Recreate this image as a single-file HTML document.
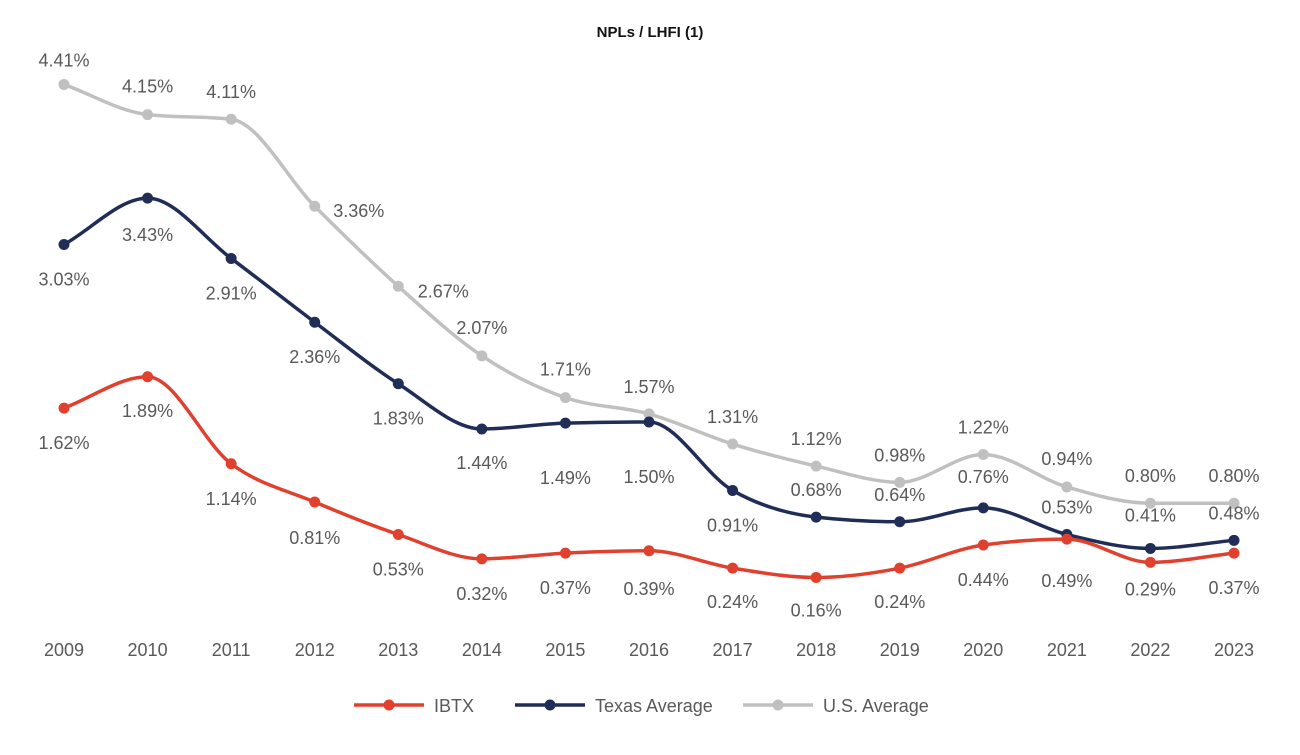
<!DOCTYPE html>
<html><head><meta charset="utf-8"><style>
body{margin:0;background:#fff;font-family:"Liberation Sans",sans-serif}
svg text{font-family:"Liberation Sans",sans-serif}
</style></head><body>
<svg id="chart" width="1300" height="750" viewBox="0 0 1300 750">
<text x="650" y="37" text-anchor="middle" font-size="15" font-weight="bold" fill="#111">NPLs / LHFI (1)</text>
<g id="plot"></g>
<g id="xaxis"></g>
<g id="legend"></g>
</svg>
<script>
const years=["2009","2010","2011","2012","2013","2014","2015","2016","2017","2018","2019","2020","2021","2022","2023"];
const ibtx=[1.62,1.89,1.14,0.81,0.53,0.32,0.37,0.39,0.24,0.16,0.24,0.44,0.49,0.29,0.37];
const texas=[3.03,3.43,2.91,2.36,1.83,1.44,1.49,1.50,0.91,0.68,0.64,0.76,0.53,0.41,0.48];
const usavg=[4.41,4.15,4.11,3.36,2.67,2.07,1.71,1.57,1.31,1.12,0.98,1.22,0.94,0.80,0.80];
const seriesNames=["IBTX","Texas Average","U.S. Average"];
// label placement (layout only)
const usLabelDx=[0,0,0,44,45,0,0,0,0,0,0,0,0,0,0];
const usLabelDy=[-25,-29,-28,4,4,-29,-29,-28,-28,-28,-28,-28,-29,-28,-28];
const txLabelDx=[0,0,0,0,0,0,0,0,0,0,0,0,0,0,0];
const txLabelDy=[34,36,34,34,34,33,54,54,34,-28,-28,-32,-28,-34,-28];
const ibLabelDx=[0,0,0,0,0,0,0,0,0,0,0,0,0,0,0];
const ibLabelDy=[34,33,34,35,34,34,34,37,33,32,33,34,41,26,34];
const NS="http://www.w3.org/2000/svg";
const xs=i=>64+i*(1234-64)/(years.length-1);
const ys=v=>596-v*116;
function mk(tag,attrs,parent){const e=document.createElementNS(NS,tag);for(const k in attrs)e.setAttribute(k,attrs[k]);parent.appendChild(e);return e;}
function monotone(pts){
 const n=pts.length,dx=[],m=[],t=[];
 for(let i=0;i<n-1;i++){dx.push(pts[i+1][0]-pts[i][0]);m.push((pts[i+1][1]-pts[i][1])/dx[i]);}
 t[0]=m[0];t[n-1]=m[n-2];
 for(let i=1;i<n-1;i++){if(m[i-1]*m[i]<=0)t[i]=0;else{const h0=dx[i-1],h1=dx[i];const p=(m[i-1]*h1+m[i]*h0)/(h0+h1);t[i]=(Math.sign(m[i-1])+Math.sign(m[i]))*Math.min(Math.abs(m[i-1]),Math.abs(m[i]),0.5*Math.abs(p));}}
 let d=`M${pts[0][0]},${pts[0][1]}`;
 for(let i=0;i<n-1;i++){const h=dx[i]/3;d+=` C${pts[i][0]+h},${pts[i][1]+h*t[i]} ${pts[i+1][0]-h},${pts[i+1][1]-h*t[i+1]} ${pts[i+1][0]},${pts[i+1][1]}`;}
 return d;}
const plot=document.getElementById('plot');
const defs=[[usavg,"#c0c0c0",usLabelDx,usLabelDy,"us-average"],[texas,"#1f2d57",txLabelDx,txLabelDy,"texas-average"],[ibtx,"#e0402e",ibLabelDx,ibLabelDy,"ibtx"]];
defs.forEach(([vals,col,ldx,ldy,nm])=>{
 const pts=vals.map((v,i)=>[xs(i),ys(v)]);
 const p=mk('path',{d:monotone(pts),fill:'none',stroke:col,'stroke-width':3.5},plot);
 
 
 vals.forEach((v,i)=>{
  const c=mk('circle',{cx:xs(i),cy:ys(v),r:5.5,fill:col},plot);
  
  
  const t=mk('text',{x:xs(i)+ldx[i],y:ys(v)+ldy[i]+7,'text-anchor':'middle','font-size':18,fill:'#595959'},plot);
  t.textContent=v.toFixed(2)+'%';
  
  
 });
});
const xa=document.getElementById('xaxis');
years.forEach((y,i)=>{const t=mk('text',{x:xs(i),y:656,'text-anchor':'middle','font-size':18,fill:'#595959'},xa);t.textContent=y;
 
 });
const lg=document.getElementById('legend');
const lx=[354,515,743],cols=["#e0402e","#1f2d57","#c0c0c0"];
seriesNames.forEach((n,i)=>{const g=mk('g',{},lg);
 
 
 mk('line',{x1:lx[i],y1:705,x2:lx[i]+70,y2:705,stroke:cols[i],'stroke-width':3.5},g);
 mk('circle',{cx:lx[i]+35,cy:705,r:5.5,fill:cols[i]},g);
 const t=mk('text',{x:lx[i]+80,y:712,'font-size':18,fill:'#595959'},g);t.textContent=n;});
</script>
</body></html>
